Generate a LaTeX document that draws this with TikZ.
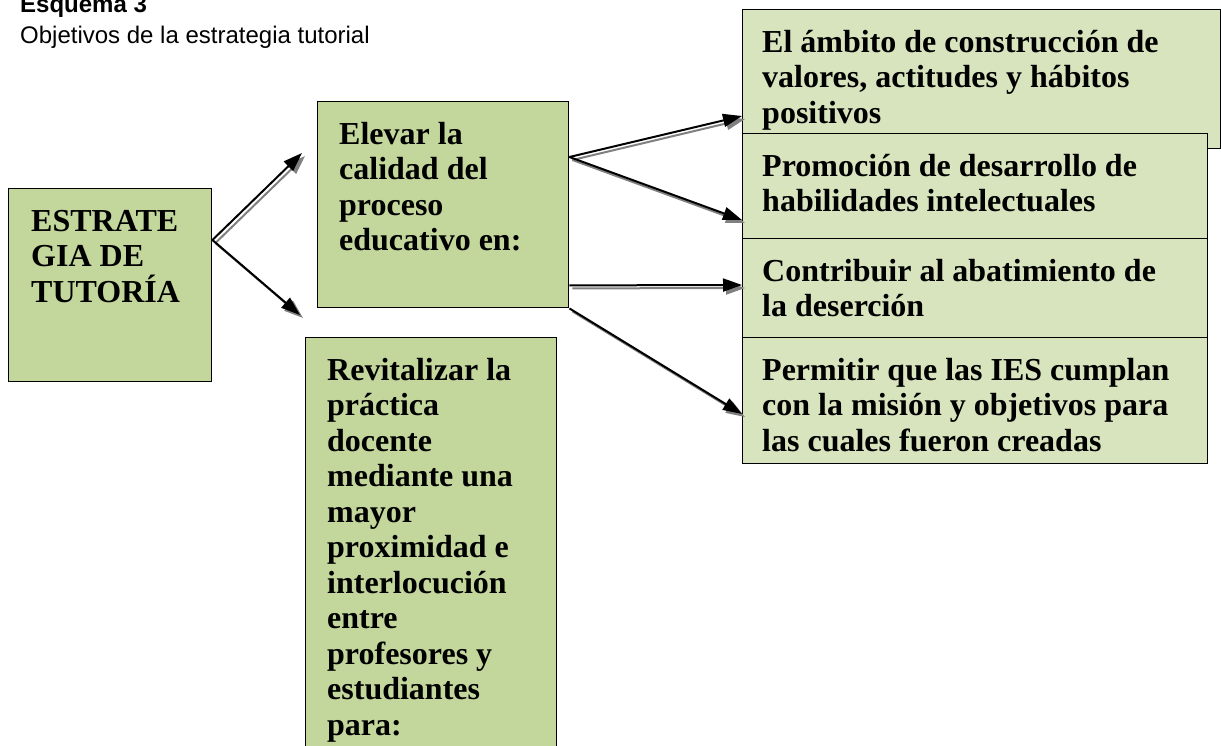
\documentclass[tikz,border=0pt]{standalone}
\usepackage{fontspec}
\setmainfont{Liberation Serif}
\newfontfamily\headfont{Liberation Sans}
\usetikzlibrary{arrows.meta}
\definecolor{oliveA}{RGB}{195,214,155}
\definecolor{oliveB}{RGB}{215,228,189}
\definecolor{shade}{RGB}{128,128,128}

\begin{document}
\begin{tikzpicture}[x=1pt,y=-1pt,
  box/.style = {draw, line width=1.4pt, anchor=north west, inner sep=0pt},
  goal/.style = {box, fill=oliveA},
  aim/.style = {box, fill=oliveB},
  txt/.style = {anchor=north west, inner sep=0pt, align=left,
    font=\bfseries\fontsize{32}{35.5}\selectfont},
  link/.style = {line width=2pt, -{Triangle[length=19pt,width=13pt]},
    preaction={draw=shade, line width=2pt, -{Triangle[length=19pt,width=13pt]},
      transform canvas={shift={(3pt,-3pt)}}}}]
  \useasboundingbox (0,0) rectangle (1221,745);
  \clip (0,0) rectangle (1221,745);

  % title
  \node[anchor=base west, inner sep=0pt, font=\headfont\bfseries\fontsize{24}{28}\selectfont]
    (head) at (20,12) {Esquema 3};
  \node[anchor=base west, inner sep=0pt, font=\headfont\fontsize{24}{28}\selectfont]
    (sub) at (20,43) {Objetivos de la estrategia tutorial};

  % left side
  \node[goal, minimum width=203, minimum height=193] (estr) at (8,188) {};
  \node[txt] (estrT) at ([shift={(23,18)}]estr.north west) {\strut ESTRATE\\GIA DE\\TUTORÍA};

  \node[goal, minimum width=251, minimum height=206] (elev) at (317,101) {};
  \node[txt] (elevT) at ([shift={(22,18)}]elev.north west)
    {\strut Elevar la\\calidad del\\proceso\\educativo en:};

  \node[goal, minimum width=251, minimum height=460] (revit) at (305,337) {};
  \node[txt] (revitT) at ([shift={(22,18)}]revit.north west)
    {\strut Revitalizar la\\práctica\\docente\\mediante una\\mayor\\proximidad e\\interlocución\\entre\\profesores y\\estudiantes\\para:};

  % right side
  \node[aim, minimum width=478, minimum height=139] (amb) at (742,9) {};
  \node[txt] (ambT) at ([shift={(20,18)}]amb.north west)
    {\strut El ámbito de construcción de\\valores, actitudes y hábitos\\positivos};

  \node[aim, minimum width=465, minimum height=105] (prom) at (742,133) {};
  \node[txt] (promT) at ([shift={(20,18)}]prom.north west)
    {\strut Promoción de desarrollo de\\habilidades intelectuales};

  \node[aim, minimum width=465, minimum height=99] (deser) at (742,238) {};
  \node[txt] (deserT) at ([shift={(20,18)}]deser.north west)
    {\strut Contribuir al abatimiento de\\la deserción};

  \node[aim, minimum width=465, minimum height=126] (mision) at (742,337) {};
  \node[txt] (misionT) at ([shift={(20,18)}]mision.north west)
    {\strut Permitir que las IES cumplan\\con la misión y objetivos para\\las cuales fueron creadas};

  % connectors
  \coordinate (estrOut) at ([shift={(0,52)}]estr.north east);
  \coordinate (elevUp) at (302,153);
  \coordinate (revitUp) at (300,315);
  \coordinate (elevOut) at ([shift={(0,56)}]elev.north east);
  \coordinate (elevLow) at ([shift={(0,-23)}]elev.south east);
  \coordinate (ambIn) at (742,116);
  \coordinate (promIn) at (742,220);
  \coordinate (deserIn) at (742,285);
  \coordinate (misionIn) at (742,414);

  \draw[link] (estrOut) -- (elevUp);
  \draw[link] (estrOut) -- (revitUp);
  \draw[link] (elevOut) -- (ambIn);
  \draw[link] (elevOut) -- (promIn);
  \draw[link] (elevLow) -- (deserIn);
  \draw[link] (elev.south east) -- (misionIn);
\end{tikzpicture}
\end{document}
